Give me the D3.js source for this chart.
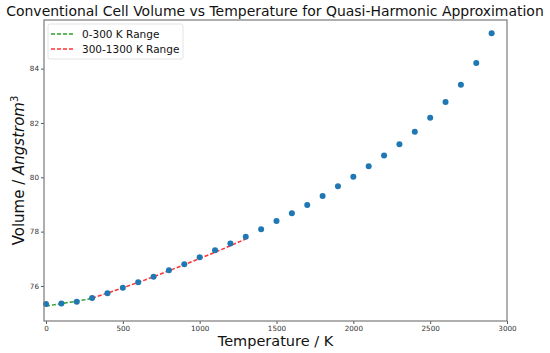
<!DOCTYPE html>
<html><head><meta charset="utf-8">
<script src="https://cdn.jsdelivr.net/npm/d3@7"></script>
<style>body{margin:0;background:#fff}svg{display:block}text{font-family:"DejaVu Sans",sans-serif}</style>
</head><body>
<script>
const temps = [0,100,200,300,400,500,600,700,800,900,1000,1100,1200,1300,1400,1500,1600,1700,1800,1900,2000,2100,2200,2300,2400,2500,2600,2700,2800,2900];
const volumes = [75.34,75.35,75.42,75.56,75.73,75.93,76.14,76.34,76.58,76.80,77.06,77.31,77.56,77.81,78.09,78.39,78.68,78.98,79.31,79.67,80.02,80.41,80.80,81.22,81.68,82.19,82.77,83.41,84.21,85.30];
const fitLowT = [0,100,200,300];
const fitLowV = [75.26,75.35,75.44,75.54];
const fitHighT = [300,400,500,600,700,800,900,1000,1100,1200,1300];
const fitHighV = [75.55,75.74,75.93,76.13,76.34,76.56,76.78,77.01,77.24,77.48,77.73];
const xTicks = [0,500,1000,1500,2000,2500,3000];
const yTicks = [76,78,80,82,84];
const legendLabels = ["0-300 K Range","300-1300 K Range"];

const W=550,H=353;
const L=44,R=507,T=20,B=321;
const svg=d3.select("body").append("svg").attr("width",W).attr("height",H);
const x=d3.scaleLinear().domain([-13,3000]).range([L,R]);
const y=d3.scaleLinear().domain([74.71,85.79]).range([B,T]);

const line=d3.line().x(d=>x(d[0])).y(d=>y(d[1]));
svg.append("path").datum(fitLowT.map((t,i)=>[t,fitLowV[i]])).attr("d",line)
  .attr("fill","none").attr("stroke","#2ca02c").attr("stroke-width",1.5).attr("stroke-dasharray","4,2");
svg.append("path").datum(fitHighT.map((t,i)=>[t,fitHighV[i]])).attr("d",line)
  .attr("fill","none").attr("stroke","#ff3333").attr("stroke-width",1.5).attr("stroke-dasharray","4,2");

svg.append("g").selectAll("circle").data(temps).join("circle")
  .attr("cx",d=>x(d)).attr("cy",(d,i)=>y(volumes[i])).attr("r",3).attr("fill","#1f77b4");

const xa=svg.append("g").attr("transform",`translate(0,${B})`).call(d3.axisBottom(x).tickValues(xTicks).tickFormat(d3.format("d")).tickSize(3).tickPadding(2));
const ya=svg.append("g").attr("transform",`translate(${L},0)`).call(d3.axisLeft(y).tickValues(yTicks).tickFormat(d3.format("d")).tickSize(3).tickPadding(2));
[xa,ya].forEach(a=>{a.select(".domain").remove();a.selectAll("text").attr("font-size",7.2).attr("fill","#333").style("font-family","DejaVu Sans");a.selectAll("line").attr("stroke","#555");});

svg.append("rect").attr("x",L).attr("y",T).attr("width",R-L).attr("height",B-T)
  .attr("fill","none").attr("stroke","#7a7a7a").attr("stroke-width",1.2);

const title=svg.append("text").attr("x",275).attr("y",16).attr("text-anchor","middle").attr("font-size",15).attr("fill","#111")
  .text("Conventional Cell Volume vs Temperature for Quasi-Harmonic Approximation");
const tw=title.node().getComputedTextLength();
title.attr("font-size",15*538/tw);
svg.append("text").attr("x",(L+R)/2).attr("y",346).attr("text-anchor","middle").attr("font-size",14.5).attr("fill","#111")
  .text("Temperature / K");
const yl=svg.append("text").attr("transform",`translate(24,${(T+B)/2}) rotate(-90)`).attr("text-anchor","middle").attr("font-size",15).attr("fill","#111");
yl.append("tspan").text("Volume / ");
yl.append("tspan").attr("font-style","italic").text("Angstrom");
yl.append("tspan").attr("font-size",10).attr("dy",-6).text("3");

const lg=svg.append("g");
lg.append("rect").attr("x",48).attr("y",24).attr("width",135).attr("height",35).attr("rx",2)
  .attr("fill","#fff").attr("stroke","#ddd").attr("stroke-width",0.8);
const colors=["#2ca02c","#ff3333"];
legendLabels.forEach((lab,i)=>{
  const cy=34+i*15;
  lg.append("line").attr("x1",51).attr("x2",73).attr("y1",cy).attr("y2",cy).attr("stroke",colors[i]).attr("stroke-width",1.5).attr("stroke-dasharray","4,2");
  lg.append("text").attr("x",82).attr("y",cy+4).attr("font-size",10.5).attr("fill","#111").text(lab);
});
</script>
</body></html>
